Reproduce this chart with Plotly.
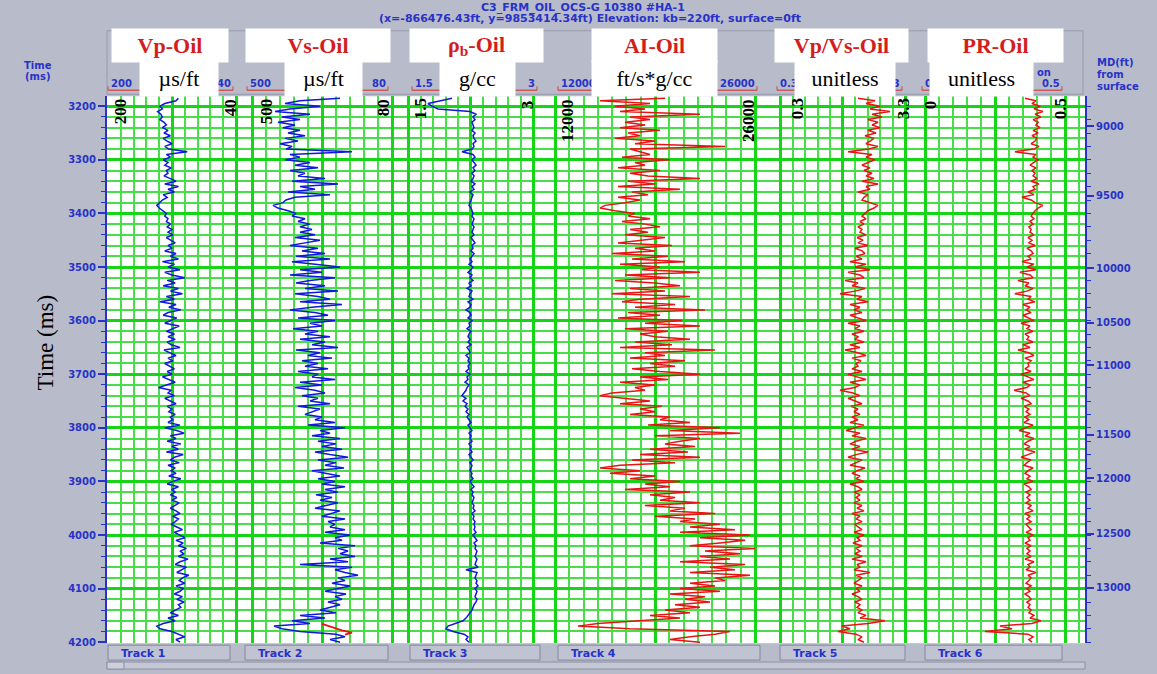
import numpy as np
import plotly.graph_objects as go

# ---------------------------------------------------------------- data
# two-way time sampling of the logs (ms)
time_ms = np.arange(3185, 4201, 5)

vp_oil = [  # us/ft
    112, 115, 129, 135, 132, 138, 134, 132, 135, 130,
    127, 132, 125, 130, 122, 131, 126, 120, 129, 124,
    101, 127, 122, 131, 125, 129, 121, 127, 125, 130,
    122, 115, 129, 112, 125, 117, 131, 126, 132, 135,
    139, 136, 131, 127, 129, 125, 127, 122, 126, 120,
    125, 119, 127, 121, 116, 125, 120, 129, 115, 122,
    112, 132, 117, 125, 110, 129, 120, 104, 126, 116,
    131, 112, 122, 107, 127, 117, 135, 115, 124, 109,
    125, 131, 114, 122, 129, 111, 120, 127, 117, 125,
    116, 126, 121, 110, 130, 122, 115, 125, 119, 129,
    122, 117, 126, 120, 132, 124, 116, 127, 137, 121,
    125, 117, 129, 122, 115, 126, 120, 124, 116, 122,
    119, 125, 110, 129, 114, 105, 122, 115, 126, 109,
    120, 112, 127, 106, 117, 122, 111, 125, 116, 121,
    115, 124, 109, 119, 126, 112, 120, 116, 122, 114,
    120, 111, 117, 122, 115, 110, 119, 112, 116, 121,
    114, 107, 117, 111, 104, 115, 106, 112, 102, 110,
    105, 112, 100, 110, 116, 102, 109, 114, 99, 107,
    111, 104, 115, 106, 110, 117, 107, 114, 105, 112,
    109, 115, 122, 112, 125, 116, 131, 139, 135, 120,
    112, 104, 115, 110,
]

vs_oil = [  # us/ft
    236, 356, 401, 296, 386, 431, 326, 410, 356, 422,
    371, 407, 356, 392, 341, 401, 362, 416, 380, 398,
    200, 386, 356, 401, 326, 371, 302, 386, 341, 362,
    281, 380, 242, 356, 311, 392, 266, 371, 398, 407,
    437, 422, 392, 368, 380, 341, 362, 326, 356, 320,
    356, 311, 371, 296, 341, 386, 302, 350, 281, 368,
    266, 380, 311, 236, 356, 290, 386, 251, 326, 368,
    281, 341, 242, 371, 302, 266, 356, 230, 320, 386,
    311, 272, 362, 251, 326, 290, 377, 302, 341, 266,
    356, 281, 320, 242, 368, 296, 332, 260, 350, 302,
    341, 272, 362, 302, 320, 251, 356, 290, 371, 311,
    281, 350, 302, 326, 266, 362, 296, 320, 341, 290,
    311, 251, 332, 221, 296, 266, 320, 236, 302, 248,
    290, 230, 311, 266, 212, 302, 248, 281, 224, 320,
    272, 236, 302, 251, 290, 221, 281, 242, 308, 260,
    296, 242, 278, 311, 236, 266, 290, 221, 272, 251,
    266, 221, 281, 206, 251, 230, 296, 191, 242, 212,
    236, 191, 266, 212, 356, 200, 251, 221, 182, 242,
    221, 260, 206, 242, 281, 218, 251, 230, 272, 236,
    266, 296, 248, 356, 281, 380, 326, 434, 410, 356,
    248, 221, 266, 236,
]

# short interval where the substituted shear log departs from the original
vs_alt_time = [4166, 4170, 4174, 4178, 4182, 4186]
vs_alt_vals = [290, 272, 248, 230, 200, 221]

rhob_oil = [  # g/cc
    2.028, 1.884, 1.740, 1.788, 1.860, 2.244, 2.316, 2.280, 2.304, 2.268,
    2.280, 2.292, 2.268, 2.304, 2.280, 2.292, 2.316, 2.280, 2.292, 2.268,
    2.148, 2.280, 2.304, 2.268, 2.292, 2.316, 2.280, 2.304, 2.268, 2.292,
    2.280, 2.256, 2.304, 2.268, 2.292, 2.244, 2.280, 2.268, 2.256, 2.244,
    2.232, 2.256, 2.268, 2.280, 2.268, 2.292, 2.280, 2.268, 2.292, 2.280,
    2.268, 2.292, 2.256, 2.280, 2.304, 2.268, 2.280, 2.256, 2.292, 2.268,
    2.244, 2.268, 2.232, 2.280, 2.256, 2.220, 2.268, 2.244, 2.280, 2.232,
    2.256, 2.208, 2.268, 2.244, 2.232, 2.280, 2.220, 2.256, 2.244, 2.196,
    2.244, 2.256, 2.220, 2.268, 2.232, 2.244, 2.208, 2.256, 2.232, 2.220,
    2.244, 2.220, 2.256, 2.208, 2.232, 2.244, 2.196, 2.232, 2.220, 2.244,
    2.220, 2.232, 2.196, 2.244, 2.208, 2.220, 2.184, 2.232, 2.208, 2.196,
    2.172, 2.148, 2.196, 2.160, 2.208, 2.184, 2.220, 2.196, 2.232, 2.208,
    2.232, 2.256, 2.220, 2.244, 2.268, 2.232, 2.256, 2.244, 2.268, 2.232,
    2.256, 2.244, 2.268, 2.232, 2.256, 2.280, 2.244, 2.268, 2.256, 2.244,
    2.268, 2.256, 2.280, 2.244, 2.268, 2.292, 2.256, 2.280, 2.268, 2.292,
    2.280, 2.268, 2.292, 2.280, 2.304, 2.268, 2.292, 2.280, 2.304, 2.292,
    2.304, 2.292, 2.316, 2.280, 2.304, 2.328, 2.292, 2.316, 2.304, 2.328,
    2.316, 2.304, 2.328, 2.316, 2.304, 2.340, 2.196, 2.328, 2.316, 2.304,
    2.328, 2.316, 2.340, 2.304, 2.328, 2.316, 2.304, 2.328, 2.316, 2.292,
    2.280, 2.268, 2.244, 2.220, 2.196, 2.160, 2.076, 1.980, 1.956, 2.040,
    2.172, 2.220, 2.196, 2.232,
]

ai_oil = [  # ft/s*g/cc
    19700, 15150, 18650, 16200, 18300, 16550, 22150, 17250, 18650, 16900,
    18300, 16550, 19350, 17110, 17950, 16200, 19000, 17600, 23900, 17250,
    17950, 18650, 16690, 20050, 17600, 18300, 16410, 19350, 17250, 18510,
    22150, 17110, 19000, 16410, 20750, 17390, 18510, 16410, 17950, 16900,
    15500, 15150, 16200, 17600, 17110, 18650, 16690, 18300, 19350, 17250,
    18510, 16900, 19700, 17950, 16410, 20190, 17600, 19000, 15990, 19910,
    17390, 21100, 16550, 19350, 18090, 22150, 16900, 20050, 16200, 19000,
    20750, 17250, 19700, 15990, 21450, 17950, 16690, 20400, 17600, 22500,
    17110, 19350, 16410, 20890, 18300, 22150, 16900, 19910, 17950, 19000,
    21450, 17600, 20190, 16550, 23200, 18300, 19700, 17250, 21100, 18650,
    20400, 17390, 19350, 22150, 17950, 19910, 16550, 19000, 17600, 18300,
    15990, 15150, 17110, 18650, 16550, 19490, 17950, 19000, 17250, 20050,
    19350, 21450, 18510, 23550, 20050, 24950, 19000, 22150, 20750, 19700,
    21800, 18650, 21310, 17950, 22150, 17390, 20400, 16550, 15150, 17950,
    15850, 19000, 17250, 20750, 18300, 20050, 16900, 21450, 18650, 20400,
    19350, 22150, 18300, 21100, 20050, 23200, 19000, 21800, 20750, 23550,
    21450, 24600, 20750, 25650, 22150, 25300, 23550, 21450, 26000, 22500,
    24950, 22150, 24250, 20750, 25300, 22850, 24600, 21450, 25650, 23200,
    23900, 21450, 23200, 20750, 23550, 20050, 22500, 21100, 22850, 20400,
    22150, 19700, 21450, 18650, 20750, 17950, 15010, 13610, 17250, 24250,
    23200, 21450, 20050, 22150,
]

vpvs_oil = [  # unitless
    2.172, 2.580, 2.364, 2.700, 2.460, 2.940, 2.508, 2.748, 2.412, 2.652,
    2.508, 2.700, 2.412, 2.604, 2.340, 2.556, 2.460, 2.364, 2.652, 2.436,
    1.932, 2.508, 2.364, 2.580, 2.412, 2.268, 2.460, 2.316, 2.508, 2.364,
    2.556, 2.268, 2.652, 2.364, 2.460, 2.172, 2.412, 2.316, 2.268, 2.460,
    2.652, 2.556, 2.412, 2.340, 2.268, 2.364, 2.220, 2.316, 2.172, 2.268,
    2.220, 2.364, 2.148, 2.292, 2.172, 2.412, 2.100, 2.268, 2.340, 2.124,
    2.268, 1.980, 2.364, 2.100, 2.460, 1.932, 2.220, 2.316, 1.860, 2.172,
    2.028, 2.340, 2.100, 1.740, 2.268, 2.148, 2.412, 1.980, 2.220, 2.076,
    2.268, 1.980, 2.172, 2.364, 1.932, 2.220, 2.100, 2.316, 2.028, 2.172,
    2.100, 2.316, 1.980, 2.220, 1.860, 2.172, 2.364, 2.028, 2.244, 2.124,
    2.172, 2.028, 2.268, 1.932, 2.148, 2.364, 1.980, 2.220, 2.100, 1.740,
    2.052, 2.220, 1.932, 2.124, 2.268, 2.004, 2.172, 2.076, 2.220, 2.028,
    2.172, 1.980, 2.316, 2.100, 1.884, 2.220, 2.028, 2.364, 2.124, 1.980,
    2.220, 2.028, 2.412, 2.124, 1.932, 2.268, 2.100, 1.980, 2.340, 2.148,
    2.028, 2.220, 2.124, 2.316, 1.980, 2.172, 2.268, 2.076, 2.220, 2.124,
    2.220, 2.076, 2.268, 2.148, 2.316, 2.028, 2.220, 2.124, 2.268, 2.100,
    2.172, 2.268, 2.076, 2.316, 2.148, 2.220, 2.052, 2.268, 2.124, 2.220,
    2.100, 2.268, 2.028, 2.364, 2.148, 2.220, 2.076, 2.460, 2.124, 2.268,
    2.172, 2.076, 2.268, 2.124, 2.220, 2.028, 2.172, 2.268, 2.100, 2.220,
    2.148, 2.268, 2.172, 2.364, 2.220, 2.820, 2.412, 1.788, 1.980, 1.692,
    2.124, 2.268, 2.172, 2.316,
]

pr_oil = [  # unitless
    0.357, 0.396, 0.382, 0.411, 0.389, 0.421, 0.393, 0.414, 0.386, 0.404,
    0.396, 0.411, 0.386, 0.404, 0.382, 0.400, 0.393, 0.379, 0.407, 0.389,
    0.321, 0.396, 0.386, 0.404, 0.389, 0.375, 0.396, 0.382, 0.393, 0.386,
    0.400, 0.379, 0.407, 0.386, 0.393, 0.368, 0.389, 0.346, 0.379, 0.393,
    0.421, 0.404, 0.393, 0.386, 0.379, 0.389, 0.375, 0.386, 0.371, 0.379,
    0.375, 0.389, 0.368, 0.382, 0.371, 0.393, 0.364, 0.379, 0.386, 0.368,
    0.379, 0.346, 0.389, 0.364, 0.396, 0.339, 0.375, 0.386, 0.332, 0.371,
    0.357, 0.386, 0.364, 0.321, 0.379, 0.368, 0.393, 0.350, 0.375, 0.361,
    0.379, 0.350, 0.371, 0.389, 0.343, 0.375, 0.364, 0.386, 0.357, 0.371,
    0.364, 0.386, 0.350, 0.375, 0.332, 0.371, 0.389, 0.357, 0.379, 0.368,
    0.371, 0.357, 0.379, 0.343, 0.368, 0.389, 0.350, 0.375, 0.364, 0.318,
    0.361, 0.375, 0.343, 0.368, 0.379, 0.354, 0.371, 0.361, 0.375, 0.357,
    0.371, 0.354, 0.386, 0.364, 0.336, 0.375, 0.357, 0.389, 0.368, 0.354,
    0.375, 0.357, 0.393, 0.368, 0.343, 0.379, 0.364, 0.354, 0.386, 0.368,
    0.357, 0.375, 0.364, 0.386, 0.354, 0.371, 0.379, 0.361, 0.375, 0.364,
    0.375, 0.361, 0.379, 0.368, 0.386, 0.357, 0.375, 0.364, 0.379, 0.361,
    0.371, 0.379, 0.361, 0.386, 0.368, 0.375, 0.357, 0.379, 0.364, 0.375,
    0.364, 0.379, 0.357, 0.389, 0.368, 0.375, 0.361, 0.396, 0.368, 0.379,
    0.371, 0.361, 0.379, 0.364, 0.375, 0.357, 0.371, 0.379, 0.364, 0.375,
    0.368, 0.379, 0.371, 0.389, 0.375, 0.414, 0.382, 0.268, 0.311, 0.214,
    0.368, 0.386, 0.371, 0.382,
]

# measured depth annotations on the right axis and the times they fall at
md_labels = ["9000", "9500", "10000", "10500", "11000", "11500", "12000", "12500", "13000"]
md_times = [3237, 3367, 3502, 3604, 3683, 3813, 3894, 3998, 4098]

track_names = ["Track 1", "Track 2", "Track 3", "Track 4", "Track 5", "Track 6"]
curve_titles = ["Vp-Oil", "Vs-Oil", "ρ<sub>b</sub>-Oil", "AI-Oil", "Vp/Vs-Oil", "PR-Oil"]
curve_units = ["µs/ft", "µs/ft", "g/cc", "ft/s*g/cc", "unitless", "unitless"]
scale_left = ["200", "500", "1.5", "12000", "0.3", "0"]
scale_right = ["40", "80", "3", "26000", "3.3", "0.5"]

for arr in (vp_oil, vs_oil, rhob_oil, ai_oil, vpvs_oil, pr_oil):
    assert len(arr) == len(time_ms)

# ---------------------------------------------------------------- styling
W, H = 1157, 674
BG = "rgb(183,187,202)"
BLUE_TXT = "rgb(40,50,200)"
CURVE_BLUE = "rgb(16,24,220)"
CURVE_RED = "rgb(232,20,20)"
GRID_MAJOR = "rgb(22,212,22)"
GRID_MINOR = "rgb(72,222,72)"
SCALE_RED = "rgb(205,90,90)"
SERIF = "Liberation Serif"
SANS = "DejaVu Sans"


def fx(px):
    return px / W


def fy(py):
    return 1 - py / H


PLOT_TOP, PLOT_BOT = 97, 648
T_TOP = 3200 - 10 * 100 / 54
T_BOT = 4200 + 1 * 100 / 54

# per track: panel extent (px), where the scale end values sit (px), scale values,
# major/minor grid spacing, curve colour
tracks = [
    dict(panel=(107, 245), spx=(108, 236), sval=(200, 40), major=80, minor=16,
         data=vp_oil, color=CURVE_BLUE),
    dict(panel=(245, 400), spx=(252, 392), sval=(500, 80), major=210, minor=42,
         data=vs_oil, color=CURVE_BLUE),
    dict(panel=(400, 545), spx=(408, 533), sval=(1.5, 3.0), major=0.75, minor=0.15,
         data=rhob_oil, color=CURVE_BLUE),
    dict(panel=(545, 768), spx=(555, 755), sval=(12000, 26000), major=7000, minor=1000,
         data=ai_oil, color=CURVE_RED),
    dict(panel=(768, 914), spx=(780, 905), sval=(0.3, 3.3), major=1.5, minor=0.3,
         data=vpvs_oil, color=CURVE_RED),
    dict(panel=(914, 1085), spx=(925, 1065), sval=(0.0, 0.5), major=0.25, minor=0.05,
         data=pr_oil, color=CURVE_RED),
]

fig = go.Figure()
layout = dict(
    width=W, height=H, autosize=False,
    margin=dict(l=0, r=0, t=0, b=0, pad=0),
    paper_bgcolor=BG, plot_bgcolor="white",
    showlegend=False,
)

for i, tr in enumerate(tracks):
    xname = "x" if i == 0 else f"x{i + 1}"
    axkey = "xaxis" if i == 0 else f"xaxis{i + 1}"
    p0, p1 = tr["spx"]
    v0, v1 = tr["sval"]
    slope = (v1 - v0) / (p1 - p0)
    d0, d1 = tr["panel"]
    rng = [v0 + (d0 - p0) * slope, v0 + (d1 - p0) * slope]
    layout[axkey] = dict(
        domain=[fx(d0), fx(d1)], range=rng, anchor="y",
        showticklabels=False, ticks="", zeroline=False, showline=False,
        showgrid=True, gridcolor=GRID_MAJOR, gridwidth=2.6,
        tickmode="linear", tick0=v0, dtick=tr["major"],
        minor=dict(showgrid=True, gridcolor=GRID_MINOR, gridwidth=1.6,
                   tickmode="linear", tick0=v0, dtick=tr["minor"], ticks=""),
        fixedrange=True,
    )
    fig.add_trace(go.Scatter(
        x=tr["data"], y=time_ms, xaxis=xname, yaxis="y", mode="lines",
        line=dict(color=tr["color"], width=1.5), hoverinfo="skip",
    ))
    if i == 1:
        fig.add_trace(go.Scatter(
            x=vs_alt_vals, y=vs_alt_time, xaxis=xname, yaxis="y", mode="lines",
            line=dict(color=CURVE_RED, width=1.8), hoverinfo="skip",
        ))

layout["yaxis"] = dict(
    domain=[fy(PLOT_BOT), fy(PLOT_TOP)], range=[T_BOT, T_TOP], anchor="x",
    tickmode="linear", tick0=3200, dtick=100,
    showgrid=True, gridcolor=GRID_MAJOR, gridwidth=2.6, zeroline=False,
    showline=True, linecolor=BLUE_TXT, linewidth=2,
    ticks="outside", ticklen=7, tickwidth=1.5, tickcolor=BLUE_TXT,
    tickfont=dict(family=SANS, size=10, color=BLUE_TXT, weight="bold"),
    minor=dict(showgrid=True, gridcolor=GRID_MINOR, gridwidth=1.6,
               tickmode="linear", tick0=3200, dtick=20,
               ticks="outside", ticklen=4, tickcolor=BLUE_TXT, tickwidth=1),
    fixedrange=True,
)
layout["yaxis2"] = dict(
    overlaying="y", side="right", anchor="free", position=fx(1086),
    range=[T_BOT, T_TOP], tickmode="array", tickvals=md_times, ticktext=md_labels,
    showgrid=False, zeroline=False,
    showline=True, linecolor=BLUE_TXT, linewidth=2,
    ticks="outside", ticklen=7, tickwidth=1.5, tickcolor=BLUE_TXT,
    tickfont=dict(family=SANS, size=10, color=BLUE_TXT, weight="bold"),
    minor=dict(tickmode="linear", tick0=3200, dtick=25, ticks="outside",
               ticklen=4, tickcolor=BLUE_TXT, tickwidth=1, showgrid=False),
    fixedrange=True,
)
fig.add_trace(go.Scatter(x=[None], y=[None], xaxis="x6", yaxis="y2",
                         mode="lines", hoverinfo="skip"))

# ---------------------------------------------------------------- header / footer shapes
shapes = []


def rect(x0, y0, x1, y1, fill, line=None, lw=1):
    shapes.append(dict(type="rect", xref="paper", yref="paper",
                       x0=fx(x0), x1=fx(x1), y0=fy(y1), y1=fy(y0),
                       fillcolor=fill, line=dict(color=line or fill, width=lw if line else 0),
                       layer="below"))


def hline(x0, x1, y, color, lw):
    shapes.append(dict(type="line", xref="paper", yref="paper",
                       x0=fx(x0), x1=fx(x1), y0=fy(y), y1=fy(y),
                       line=dict(color=color, width=lw), layer="above"))


def vline(x, y0, y1, color, lw):
    shapes.append(dict(type="line", xref="paper", yref="paper",
                       x0=fx(x), x1=fx(x), y0=fy(y0), y1=fy(y1),
                       line=dict(color=color, width=lw), layer="above"))


# header band above the tracks
rect(107, 31, 1083, 95, BG, "rgb(150,154,172)", 1)

# scale lines under the curve headers
scale_lines = [(108, 233), (247, 388), (412, 537), (558, 757), (777, 902), (922, 1062)]
for a, b in scale_lines:
    hline(a, b, 91, SCALE_RED, 1.6)
    vline(a, 87, 91, SCALE_RED, 1.2)
    vline(b, 87, 91, SCALE_RED, 1.2)

# track name tabs under the plot
tab_px = [(108, 230), (245, 388), (410, 540), (558, 760), (780, 905), (925, 1062)]
for a, b in tab_px:
    rect(a, 650, b, 665, "rgb(192,195,209)", "rgb(132,136,156)", 1)

# scroll bar strip
rect(107, 667, 1085, 674, "rgb(196,199,212)", "rgb(140,144,162)", 1)
rect(107, 667, 124, 674, "rgb(205,208,220)", "rgb(140,144,162)", 1)

layout["shapes"] = shapes

# ---------------------------------------------------------------- text
ann = []


def text(x, y, s, size, color, family=SANS, bold=False, xanchor="center",
         yanchor="middle", angle=0, **kw):
    d = dict(xref="paper", yref="paper", x=fx(x), y=fy(y), text=s, showarrow=False,
             xanchor=xanchor, yanchor=yanchor, textangle=angle,
             font=dict(family=family, size=size, color=color,
                       weight="bold" if bold else "normal"))
    d.update(kw)
    ann.append(d)


# well title
text(583, 8, "C3_FRM_OIL_OCS-G 10380 #HA-1", 11, BLUE_TXT, bold=True)
text(590, 19, "(x=-866476.43ft, y=9853414.34ft) Elevation: kb=220ft, surface=0ft",
     11, BLUE_TXT, bold=True)

# axis captions
text(38, 66, "Time", 10, BLUE_TXT, bold=True)
text(38, 77, "(ms)", 10, BLUE_TXT, bold=True)
text(1095, 63, "MD(ft)", 10, BLUE_TXT, bold=True, xanchor="left")
text(1095, 75, "from", 10, BLUE_TXT, bold=True, xanchor="left")
text(1095, 87, "surface", 10, BLUE_TXT, bold=True, xanchor="left")
text(45, 345, "Time (ms)", 23, "black", family=SERIF, angle=-90)

# scale end values in the header (partly hidden by the title boxes)
for (a, b), sl, sr in zip(scale_lines, scale_left, scale_right):
    text(a + 1, 84, sl, 10, BLUE_TXT, bold=True, xanchor="left")
    text(b, 84, sr, 10, BLUE_TXT, bold=True, xanchor="right")
text(1035, 73, "on", 10, BLUE_TXT, bold=True, xanchor="left")

# white title / unit boxes
name_boxes = [(112, 228), (246, 390), (410, 543), (592, 717), (775, 908), (928, 1063)]
unit_boxes = [(140, 218), (285, 362), (440, 515), (592, 717), (795, 895), (930, 1033)]
for (a, b), (c, d), nm, un in zip(name_boxes, unit_boxes, curve_titles, curve_units):
    ann.append(dict(xref="paper", yref="paper", x=fx((a + b) / 2), y=fy(45.5),
                    xanchor="center", yanchor="middle", showarrow=False,
                    text=nm, width=b - a, height=33, bgcolor="white", borderpad=0,
                    font=dict(family=SERIF, size=22, color="rgb(212,30,30)", weight="bold")))
    ann.append(dict(xref="paper", yref="paper", x=fx((c + d) / 2), y=fy(79.5),
                    xanchor="center", yanchor="middle", showarrow=False,
                    text=un, width=d - c, height=35, bgcolor="white", borderpad=0,
                    font=dict(family=SERIF, size=22, color="black")))

# rotated scale values inside the tracks
inner = [
    (120, 112, "200"), (230, 109, "40"), (266, 112, "500"), (383, 109, "80"),
    (420, 110, "1.5"), (527, 106, "3"), (567, 122, "12000"), (748, 122, "26000"),
    (797, 110, "0.3"), (903, 110, "3.3"), (930, 106, "0"), (1060, 110, "0.5"),
]
for x, y, s in inner:
    text(x, y, s, 17, "black", family=SERIF, bold=True, angle=-90)

# track tabs
for (a, b), nm in zip(tab_px, track_names):
    text(a + 11, 658, nm, 11, BLUE_TXT, bold=True, xanchor="left")

layout["annotations"] = ann
fig.update_layout(**layout)
fig.write_html("out.html")
